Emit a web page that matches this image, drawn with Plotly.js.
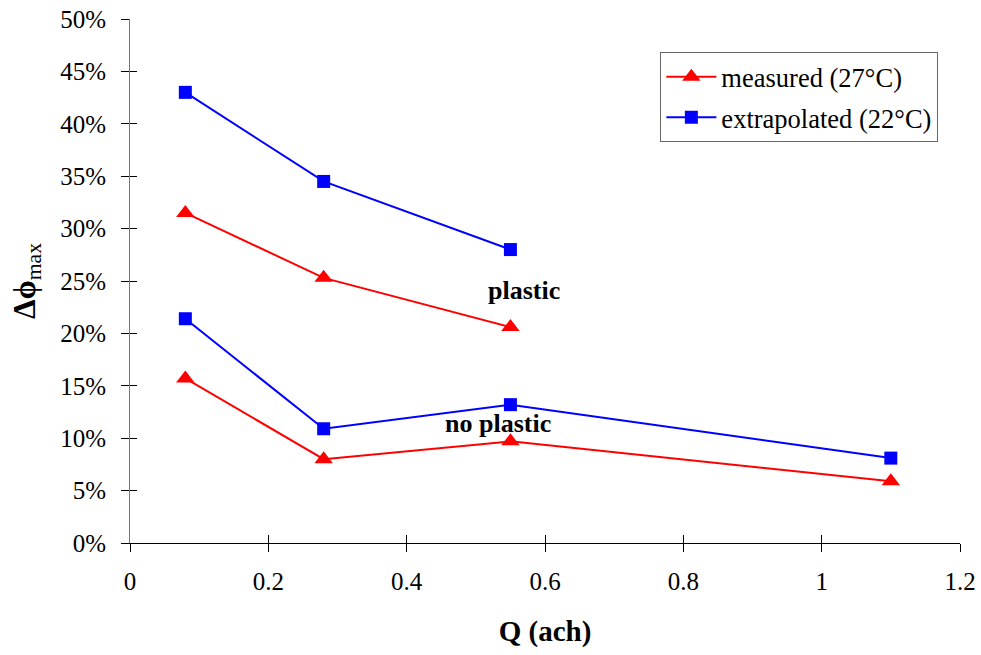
<!DOCTYPE html>
<html>
<head>
<meta charset="utf-8">
<script src="https://cdn.plot.ly/plotly-3.0.1.min.js"></script>
</head>
<body style="margin:0">
<div id="chart"></div>
<script>
// Air change rate Q (ach)
const qPlastic = [0.08, 0.28, 0.55];
const qNoPlastic = [0.08, 0.28, 0.55, 1.1];

// Maximum moisture change, fraction
const measuredPlastic = [0.315, 0.253, 0.206];
const extrapolatedPlastic = [0.430, 0.345, 0.280];
const measuredNoPlastic = [0.157, 0.080, 0.097, 0.059];
const extrapolatedNoPlastic = [0.214, 0.109, 0.132, 0.081];

const seriesNames = ['measured (27°C)', 'extrapolated (22°C)'];
const yTickVals = [0, 0.05, 0.10, 0.15, 0.20, 0.25, 0.30, 0.35, 0.40, 0.45, 0.50];
const xTickVals = [0, 0.2, 0.4, 0.6, 0.8, 1, 1.2];

const FONT = 'Liberation Serif';
const red = '#ff0000';
const blue = '#0000ff';

function measuredTrace(x, y, show) {
  return {
    x: x, y: y, type: 'scatter', mode: 'lines+markers',
    name: seriesNames[0], legendgroup: 'm', showlegend: show,
    line: { color: red, width: 2 },
    marker: { symbol: 'triangle-up', size: 16, color: red }
  };
}
function extrapolatedTrace(x, y, show) {
  return {
    x: x, y: y, type: 'scatter', mode: 'lines+markers',
    name: seriesNames[1], legendgroup: 'e', showlegend: show,
    line: { color: blue, width: 2 },
    marker: { symbol: 'square', size: 13, color: blue }
  };
}

const traces = [
  measuredTrace(qPlastic, measuredPlastic, true),
  extrapolatedTrace(qPlastic, extrapolatedPlastic, true),
  measuredTrace(qNoPlastic, measuredNoPlastic, false),
  extrapolatedTrace(qNoPlastic, extrapolatedNoPlastic, false),
  // invisible trace carrying the inner half of the crossing tick marks
  { x: [0], y: [0], xaxis: 'x2', yaxis: 'y2', mode: 'markers',
    marker: { opacity: 0 }, showlegend: false, hoverinfo: 'skip' }
];

const layout = {
  width: 981, height: 655,
  margin: { l: 130, r: 21, t: 19, b: 112 },
  paper_bgcolor: '#ffffff', plot_bgcolor: '#ffffff',
  font: { family: FONT, size: 25, color: '#000' },
  showlegend: true,
  legend: {
    x: 0.639, y: 0.937, xanchor: 'left', yanchor: 'top',
    bordercolor: '#666', borderwidth: 1, bgcolor: '#fff',
    font: { family: FONT, size: 26.5, color: '#000' },
    tracegroupgap: 3, itemwidth: 50
  },
  xaxis: {
    range: [0, 1.2], tickvals: xTickVals,
    ticktext: xTickVals.map(v => String(v)),
    showgrid: false, zeroline: false,
    showline: true, linecolor: '#000', linewidth: 1,
    ticks: 'outside', ticklen: 8, tickcolor: '#000', tickwidth: 1,
    ticklabelstandoff: 8,
    tickfont: { family: FONT, size: 25, color: '#000' },
    title: { text: '<b>Q (ach)</b>', font: { family: FONT, size: 29, color: '#000' }, standoff: 26 }
  },
  yaxis: {
    range: [0, 0.5], tickvals: yTickVals,
    ticktext: yTickVals.map(v => Math.round(v * 100) + '%'),
    showgrid: false, zeroline: false,
    showline: true, linecolor: '#777', linewidth: 1,
    ticks: 'outside', ticklen: 8, tickcolor: '#000', tickwidth: 1,
    ticklabelstandoff: 10,
    tickfont: { family: FONT, size: 25, color: '#000' },
    title: { text: '<b>Δϕ</b><sub>max</sub>', font: { family: FONT, size: 31, color: '#000' }, standoff: 15 }
  },
  xaxis2: {
    overlaying: 'x', range: [0, 1.2], tickvals: xTickVals,
    showticklabels: false, showgrid: false, zeroline: false, showline: false,
    ticks: 'inside', ticklen: 8, tickcolor: '#000', tickwidth: 1
  },
  yaxis2: {
    overlaying: 'y', range: [0, 0.5], tickvals: yTickVals,
    showticklabels: false, showgrid: false, zeroline: false, showline: false,
    ticks: 'inside', ticklen: 7, tickcolor: '#000', tickwidth: 1
  },
  annotations: [
    { x: 0.570, y: 0.2414, xref: 'x', yref: 'y', text: '<b>plastic</b>',
      showarrow: false, font: { family: FONT, size: 26, color: '#000' } },
    { x: 0.532, y: 0.1136, xref: 'x', yref: 'y', text: '<b>no plastic</b>',
      showarrow: false, font: { family: FONT, size: 26, color: '#000' } }
  ]
};

Plotly.newPlot('chart', traces, layout, { displayModeBar: false });
</script>
</body>
</html>
